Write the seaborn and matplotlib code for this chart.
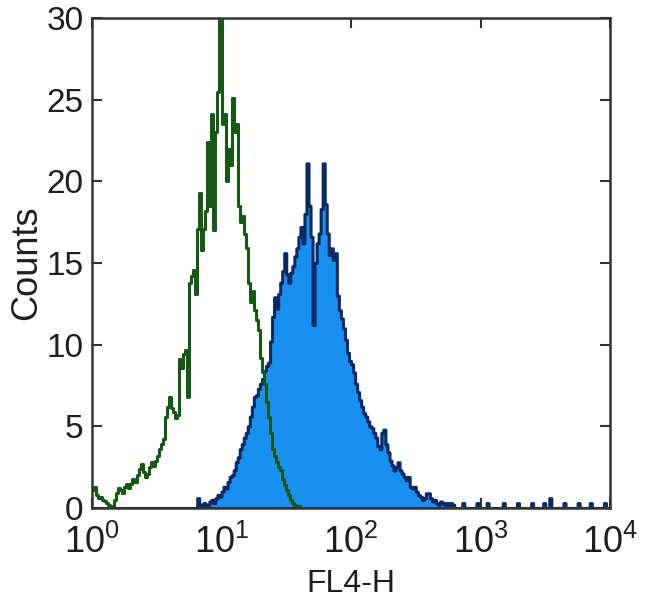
import numpy as np
import pandas as pd
import matplotlib
matplotlib.use("Agg")
import matplotlib.pyplot as plt
import seaborn as sns

# ---- data: counts per log channel (64 channels per decade, 4 decades) ----
channels_per_decade = 64
green_start = 0
green_counts = [
    1.1, 1.3, 0.8, 0.6, 0.7, 0.5, 0.4, 0.3, 0.2, 0.1,
    0.1, 0.5, 0.9, 1.2, 1.1, 0.9, 1.3, 1.5, 1.2, 1.5,
    1.8, 1.6, 2.0, 2.4, 2.7, 2.2, 1.9, 2.1, 2.5, 2.8,
    2.6, 2.9, 3.2, 3.6, 3.9, 4.2, 5.6, 6.2, 6.8, 6.1,
    5.9, 5.5, 5.7, 9.1, 8.6, 9.4, 9.7, 6.8, 13.8, 14.2,
    14.6, 13.1, 17.1, 19.3, 15.8, 17.1, 18.2, 22.4, 18.5, 24.1,
    17.0, 23.0, 25.5, 29.9, 23.5, 24.1, 20.0, 22.0, 21.0, 25.1,
    23.0, 23.5, 18.5, 17.5, 17.9, 16.8, 15.9, 13.8, 12.6, 13.3,
    12.1, 11.5, 10.9, 9.2, 8.3, 7.6, 6.5, 5.6, 4.6, 3.6,
    3.2, 2.8, 2.5, 2.3, 1.8, 1.4, 1.1, 0.8, 0.5, 0.3,
    0.2, 0.1, 0.1, 0.0,
]
blue_start = 50
blue_counts = [
    0, 0, 0.6, 0.2, 0, 0.3, 0.2, 0, 0.4, 0.5,
    0.3, 0.6, 0.8, 0.7, 1.0, 1.3, 1.2, 1.6, 1.9, 2.0,
    2.3, 2.8, 3.1, 3.6, 3.9, 4.3, 4.6, 5.0, 5.6, 6.2,
    6.8, 6.9, 7.3, 7.6, 7.9, 8.4, 8.7, 8.9, 10.2, 11.7,
    12.9, 12.2, 13.1, 13.8, 14.5, 15.6, 14.3, 13.8, 14.4, 14.8,
    15.4, 15.9, 16.6, 17.2, 16.2, 18.0, 21.1, 18.5, 16.6, 11.2,
    15.0, 16.2, 16.8, 18.3, 21.1, 18.6, 16.8, 15.5, 15.9, 15.2,
    15.6, 13.0, 12.1, 11.6, 11.0, 10.3, 9.5, 9.0, 8.8, 8.3,
    7.6, 7.1, 6.6, 6.2, 5.8, 5.6, 5.3, 5.0, 4.9, 4.6,
    4.3, 3.8, 3.6, 4.6, 4.8, 3.9, 3.4, 2.9, 2.6, 2.3,
    2.5, 2.8, 2.3, 2.1, 1.9, 1.7, 1.9, 1.3, 1.2, 1.3,
    1.0, 0.8, 0.7, 0.5, 0.6, 0.9, 0.9, 0.6, 0.4, 0.5,
    0.3, 0.2, 0.4, 0.3, 0.2, 0.3, 0.1, 0.3, 0.2, 0,
    0, 0, 0, 0.3, 0, 0, 0, 0, 0, 0,
    0.3, 0, 0, 0, 0, 0.3, 0, 0, 0, 0,
    0, 0, 0, 0.3, 0, 0, 0, 0, 0, 0,
    0.3, 0, 0, 0, 0, 0, 0, 0.3, 0, 0,
    0, 0, 0, 0.3, 0, 0, 0.6, 0, 0, 0,
    0, 0, 0, 0.3, 0, 0, 0, 0, 0, 0,
    0.3, 0, 0, 0, 0, 0, 0.3, 0, 0, 0,
    0, 0, 0, 0.3, 0, 0,
]
y_ticks = [0, 5, 10, 15, 20, 25, 30]
x_label = "FL4-H"
y_label = "Counts"


def channel_centers(start, n):
    c = np.arange(start, start + n)
    return 10 ** ((c + 0.5) / channels_per_decade)


green_df = pd.DataFrame({"fl4": channel_centers(green_start, len(green_counts)),
                         "count": green_counts})
blue_df = pd.DataFrame({"fl4": channel_centers(blue_start, len(blue_counts)),
                        "count": blue_counts})

sns.set_style("white")
plt.rcParams["font.family"] = ["Liberation Sans", "DejaVu Sans"]
plt.rcParams["mathtext.fontset"] = "custom"
plt.rcParams["mathtext.rm"] = "Liberation Sans"
plt.rcParams["mathtext.it"] = "Liberation Sans:italic"
plt.rcParams["mathtext.bf"] = "Liberation Sans:bold"
plt.rcParams["text.color"] = "#1e1e1e"
plt.rcParams["axes.labelcolor"] = "#1e1e1e"
plt.rcParams["xtick.labelcolor"] = "#1e1e1e"
plt.rcParams["ytick.labelcolor"] = "#1e1e1e"

fig = plt.figure(figsize=(6.5, 6.15), dpi=100)
ax = fig.add_axes([92 / 650, (615 - 508) / 615, (610 - 92) / 650, (508 - 18) / 615])

bw = 1 / channels_per_decade
sns.histplot(data=blue_df, x="fl4", weights="count", binwidth=bw, binrange=(0, 4),
             log_scale=True, element="step", fill=True, color="#1790f2", alpha=1.0,
             edgecolor="#0a2a66", linewidth=2.2, ax=ax)
sns.histplot(data=green_df, x="fl4", weights="count", binwidth=bw, binrange=(0, 4),
             log_scale=True, element="step", fill=False, color="#175817",
             linewidth=2.2, ax=ax)

ax.set_xlim(1, 1e4)
ax.set_ylim(0, 30)
ax.set_yticks(y_ticks)
ax.set_xticks([1, 10, 100, 1000, 10000])
ax.minorticks_off()
ax.xaxis.set_minor_locator(matplotlib.ticker.NullLocator())

for s in ax.spines.values():
    s.set_visible(True)
    s.set_color("#333333")
    s.set_linewidth(1.8)

ax.tick_params(axis="both", which="major", direction="in", length=7, width=1.5,
               color="#333333", top=True, right=True, bottom=True, left=True,
               labelsize=24, pad=6)
ax.tick_params(axis="x", pad=12, labelsize=26)

ax.set_xlabel(x_label, fontsize=23, labelpad=6)
ax.set_ylabel(y_label, fontsize=26, labelpad=2)

fig.savefig("out.png", dpi=100)
